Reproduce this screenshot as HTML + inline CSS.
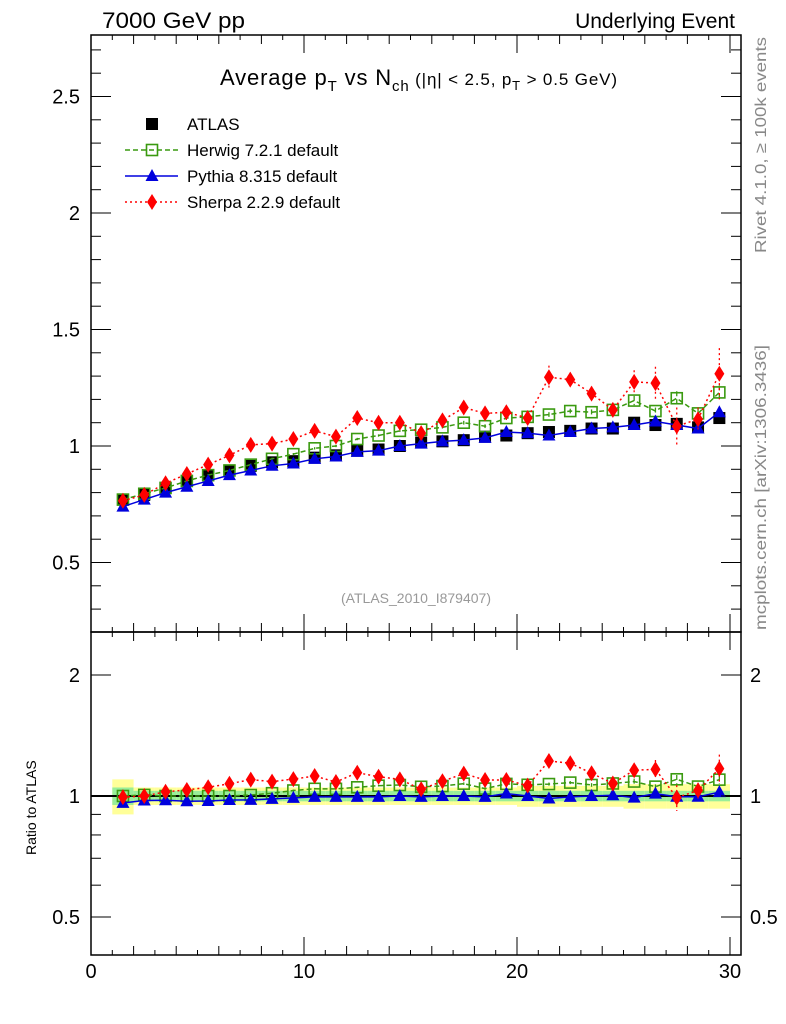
<!DOCTYPE html>
<html><head><meta charset="utf-8">
<style>
body{margin:0;background:#fff;}
svg{display:block;font-family:"Liberation Sans",sans-serif;}
</style></head>
<body>
<svg id="chart" width="786" height="1024" viewBox="0 0 786 1024" xmlns="http://www.w3.org/2000/svg">
<text x="102" y="28" font-size="22" textLength="143" lengthAdjust="spacingAndGlyphs">7000 GeV pp</text>
<text x="735" y="28" font-size="21" text-anchor="end">Underlying Event</text>
<text x="220" y="85" font-size="22" textLength="397">Average p<tspan font-size="15" dy="6">T</tspan><tspan dy="-6"> vs N</tspan><tspan font-size="15" dy="6">ch</tspan><tspan font-size="17" dy="-6"> (|η| &lt; 2.5, p</tspan><tspan font-size="13" dy="5">T</tspan><tspan font-size="17" dy="-5"> &gt; 0.5 GeV)</tspan></text>
<text x="416" y="603" font-size="14" fill="#999" text-anchor="middle">(ATLAS_2010_I879407)</text>
<text transform="translate(766,253) rotate(-90)" font-size="16" fill="#888" textLength="216" lengthAdjust="spacingAndGlyphs">Rivet 4.1.0, ≥ 100k events</text>
<text transform="translate(766,630) rotate(-90)" font-size="16" fill="#888" textLength="285" lengthAdjust="spacingAndGlyphs">mcplots.cern.ch [arXiv:1306.3436]</text>
<text transform="translate(36,855) rotate(-90)" font-size="14">Ratio to ATLAS</text>
<g id="bands"></g>
<g id="main"></g>
<g id="ratio"></g>
<g id="axes"></g>
<g id="legend"></g>
</svg>
<script>
const xs=[1.5,2.5,3.5,4.5,5.5,6.5,7.5,8.5,9.5,10.5,11.5,12.5,13.5,14.5,15.5,16.5,17.5,18.5,19.5,20.5,21.5,22.5,23.5,24.5,25.5,26.5,27.5,28.5,29.5];
const atlas=[0.77,0.79,0.82,0.85,0.875,0.895,0.915,0.93,0.935,0.95,0.96,0.98,0.985,1.0,1.015,1.02,1.025,1.04,1.045,1.055,1.06,1.065,1.075,1.075,1.1,1.09,1.095,1.08,1.12];
const herwig=[0.77,0.795,0.82,0.85,0.875,0.895,0.92,0.945,0.965,0.99,1.0,1.03,1.045,1.065,1.07,1.08,1.1,1.085,1.12,1.125,1.135,1.15,1.145,1.155,1.195,1.15,1.205,1.14,1.23];
const herwigErr=[0.005,0.005,0.005,0.005,0.005,0.005,0.005,0.005,0.005,0.005,0.005,0.005,0.005,0.005,0.005,0.005,0.008,0.008,0.008,0.01,0.01,0.01,0.012,0.012,0.02,0.015,0.03,0.02,0.03];
const pythia=[0.74,0.77,0.80,0.825,0.85,0.875,0.895,0.915,0.925,0.945,0.955,0.975,0.98,1.0,1.01,1.02,1.025,1.035,1.06,1.055,1.045,1.06,1.075,1.08,1.09,1.105,1.09,1.075,1.145];
const sherpa=[0.765,0.79,0.84,0.88,0.92,0.96,1.005,1.01,1.03,1.065,1.04,1.12,1.1,1.1,1.055,1.11,1.165,1.14,1.145,1.12,1.295,1.285,1.225,1.155,1.275,1.27,1.085,1.115,1.31];
const sherpaErr=[0.005,0.005,0.005,0.005,0.005,0.005,0.008,0.008,0.008,0.01,0.01,0.01,0.01,0.01,0.015,0.015,0.015,0.015,0.02,0.02,0.05,0.03,0.03,0.03,0.05,0.07,0.08,0.05,0.11];
const bandStat=[0.05,0.03,0.03,0.03,0.03,0.03,0.03,0.03,0.03,0.03,0.03,0.03,0.03,0.03,0.03,0.03,0.03,0.03,0.03,0.03,0.03,0.03,0.03,0.03,0.03,0.03,0.03,0.03,0.03];
const bandTot=[0.1,0.05,0.05,0.05,0.05,0.05,0.05,0.05,0.05,0.05,0.05,0.05,0.05,0.05,0.05,0.05,0.05,0.05,0.05,0.06,0.06,0.06,0.06,0.06,0.07,0.07,0.07,0.07,0.07];
const mainTicks=[0.5,1,1.5,2,2.5];
const ratioTicks=[0.5,1,2];
const xTicks=[0,10,20,30];

const NS="http://www.w3.org/2000/svg";
const L=91,R=741,T=35,MB=632,B=955;
const X=v=>91+v*21.3;
const Y=v=>446-(v-1)*233;
const RY=v=>796-Math.log2(v)*121;
function mk(tag,attrs,parent){const e=document.createElementNS(NS,tag);for(const k in attrs)e.setAttribute(k,attrs[k]);parent.appendChild(e);return e;}
const main=document.getElementById('main'),ratio=document.getElementById('ratio'),axes=document.getElementById('axes'),bands=document.getElementById('bands'),legend=document.getElementById('legend');

xs.forEach((x,i)=>{
 const y1=mk('rect',{x:X(x-0.5),y:RY(1+bandTot[i]),width:21.3,height:RY(1-bandTot[i])-RY(1+bandTot[i]),fill:'#ffff99'},bands);
 
 
 const y2=mk('rect',{x:X(x-0.5),y:RY(1+bandStat[i]),width:21.3,height:RY(1-bandStat[i])-RY(1+bandStat[i]),fill:'#99ee99'},bands);
 
 
});
mk('line',{x1:L,x2:R,y1:RY(1),y2:RY(1),stroke:'#000','stroke-width':2},ratio);

function marker(type,cx,cy,color,parent){
 let e;
 if(type==='sq') e=mk('rect',{x:cx-6,y:cy-6,width:12,height:12,fill:'#000'},parent);
 else if(type==='osq') e=mk('rect',{x:cx-5.5,y:cy-5.5,width:11,height:11,fill:'none',stroke:color,'stroke-width':1.6},parent);
 else if(type==='tri') e=mk('polygon',{points:`${cx},${cy-7} ${cx-6.5},${cy+5} ${cx+6.5},${cy+5}`,fill:color},parent);
 else e=mk('polygon',{points:`${cx},${cy-8} ${cx-5},${cy} ${cx},${cy+8} ${cx+5},${cy}`,fill:color},parent);
 return e;
}
function series(vals,errs,type,color,dash,name,g,Yf,norm){
 const pts=xs.map((x,i)=>[X(x),Yf(norm?vals[i]/atlas[i]:vals[i])]);
 if(color){
  const pl=mk('polyline',{points:pts.map(p=>p.join(',')).join(' '),fill:'none',stroke:color,'stroke-width':1.5,'stroke-dasharray':dash},g);
  
  
 }
 xs.forEach((x,i)=>{
  if(errs){
   const v=norm?vals[i]/atlas[i]:vals[i], e=norm?errs[i]/atlas[i]:errs[i];
   const el=mk('line',{x1:X(x),x2:X(x),y1:Yf(v+e),y2:Yf(Math.max(v-e,0.01)),stroke:color,'stroke-width':1.3,'stroke-dasharray':dash},g);
   
   
  }
  const m=marker(type,pts[i][0],pts[i][1],color,g);
  
  
 });
}
series(atlas,null,'sq',null,'','atlas',main,Y,false);
series(herwig,herwigErr,'osq','#3a9a10','5,3','herwig',main,Y,false);
series(pythia,null,'tri','#0000dd','','pythia',main,Y,false);
series(sherpa,sherpaErr,'dia','#ff0000','2,3','sherpa',main,Y,false);
series(herwig,herwigErr,'osq','#3a9a10','5,3','herwig-ratio',ratio,RY,true);
series(pythia,null,'tri','#0000dd','','pythia-ratio',ratio,RY,true);
series(sherpa,sherpaErr,'dia','#ff0000','2,3','sherpa-ratio',ratio,RY,true);

const f1=mk('rect',{x:L,y:T,width:R-L,height:MB-T,fill:'none',stroke:'#000','stroke-width':1.5},axes);


const f2=mk('rect',{x:L,y:MB,width:R-L,height:B-MB,fill:'none',stroke:'#000','stroke-width':1.5},axes);


for(let v=0.3;v<=2.75;v+=0.1){const y=Y(v),maj=Math.abs(v*2-Math.round(v*2))<0.01;
 mk('line',{x1:L,x2:L+(maj?20:10),y1:y,y2:y,stroke:'#000','stroke-width':1},axes);
 mk('line',{x1:R,x2:R-(maj?20:10),y1:y,y2:y,stroke:'#000','stroke-width':1},axes);}
mainTicks.forEach(v=>{const t=mk('text',{x:80,y:Y(v)+7,'font-size':20,'text-anchor':'end'},axes);t.textContent=String(v);
 
 });
[0.5,0.6,0.7,0.8,0.9,1,2].forEach(v=>{const y=RY(v),maj=ratioTicks.includes(v);
 mk('line',{x1:L,x2:L+(maj?20:10),y1:y,y2:y,stroke:'#000'},axes);
 mk('line',{x1:R,x2:R-(maj?20:10),y1:y,y2:y,stroke:'#000'},axes);});
ratioTicks.forEach(v=>{const a=mk('text',{x:80,y:RY(v)+7,'font-size':20,'text-anchor':'end'},axes);a.textContent=String(v);
 
 
 const b=mk('text',{x:750,y:RY(v)+7,'font-size':20},axes);b.textContent=String(v);
 
 });
for(let v=0;v<=30;v++){const x=X(v),maj=v%10===0,len=maj?18:(v%2===0?9:5);
 [[T,1],[MB,1],[MB,-1],[B,-1]].forEach(([y0,d])=>mk('line',{x1:x,x2:x,y1:y0,y2:y0+d*len,stroke:'#000'},axes));}
xTicks.forEach(v=>{const t=mk('text',{x:X(v),y:978,'font-size':20,'text-anchor':'middle'},axes);t.textContent=String(v);
 
 });
const leg=[['ATLAS','sq',null,''],['Herwig 7.2.1 default','osq','#3a9a10','5,3'],['Pythia 8.315 default','tri','#0000dd',''],['Sherpa 2.2.9 default','dia','#ff0000','2,3']];
leg.forEach((l,i)=>{const y=124+i*26;
 if(l[2]){mk('line',{x1:125,x2:178,y1:y,y2:y,stroke:l[2],'stroke-width':1.5,'stroke-dasharray':l[3]},legend);}
 const m=marker(l[1],152,y,l[2],legend);
 
 
 const t=mk('text',{x:187,y:y+6,'font-size':17},legend);t.textContent=l[0];
 
 });
</script>
</body></html>
